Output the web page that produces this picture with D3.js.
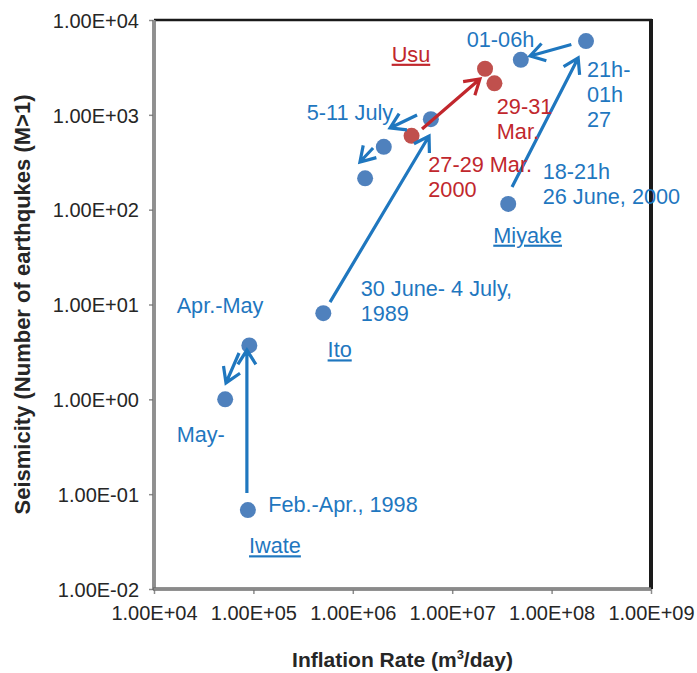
<!DOCTYPE html>
<html>
<head>
<meta charset="utf-8">
<script src="https://cdn.jsdelivr.net/npm/d3@7/dist/d3.min.js"></script>
<style>
  html, body { margin: 0; padding: 0; background: #fff; }
  svg { display: block; font-family: "Liberation Sans", Arial, sans-serif; }
</style>
</head>
<body>
<svg id="chart" width="697" height="673"></svg>
<script>
// ---- Data ----
const xTicks = [1e4, 1e5, 1e6, 1e7, 1e8, 1e9];
const yTicks = [1e-2, 1e-1, 1e0, 1e1, 1e2, 1e3, 1e4];

// points by volcano [inflation rate, seismicity]
const iwateX = [8.8e4, 9.1e4, 5.2e4];
const iwateY = [0.068, 3.7, 1.0];
const itoX = [5.05e5, 6.1e6, 2.05e6, 1.33e6];
const itoY = [8.1, 900, 460, 214];
const usuX = [3.9e6, 2.14e7, 2.66e7];
const usuY = [600, 3060, 2150];
const miyakeX = [3.66e7, 2.22e8, 4.9e7];
const miyakeY = [115, 6000, 3800];

// arrows: from [x,y] to [x,y]
const arrowFrom = [[8.6e4, 0.103], [7.17e4, 3.08], [5.9e5, 10.6], [4.43e6, 996], [1.6e6, 447], [4.97e6, 709], [4.0e7, 173], [1.58e8, 5520]];
const arrowTo   = [[8.6e4, 3.31], [5.3e4, 1.49], [5.85e6, 598], [2.37e6, 727], [1.18e6, 318], [1.9e7, 2390], [1.85e8, 3975], [6.07e7, 4170]];
const arrowRed  = [false, false, false, false, false, true, false, false];

// text annotations: anchor in data space
const labelText = [["Usu"], ["01-06h"], ["21h-", "01h", "27"], ["5-11 July"], ["29-31", "Mar."], ["27-29 Mar.", "2000"],
  ["18-21h", "26 June, 2000"], ["Miyake"], ["30 June- 4 July,", "1989"], ["Apr.-May"], ["Ito"], ["May-"], ["Feb.-Apr., 1998"], ["Iwate"]];
const labelX = [2.46e6, 1.40e7, 2.27e8, 3.44e5, 2.81e7, 5.75e6, 8.13e7, 2.59e7, 1.20e6, 1.69e4, 5.58e5, 1.69e4, 1.41e5, 9.04e4];
const labelY = [3630, 5150, 2506, 881, 1021, 251, 209, 44.9, 12.3, 8.07, 2.77, 0.357, 0.0653, 0.0238];
const labelRed = [true, false, false, false, true, true, false, false, false, false, false, false, false, false];
const labelUnderline = [true, false, false, false, false, false, false, true, false, false, true, false, false, true];

// ---- Layout ----
const svg = d3.select("#chart");
const L = 154, R = 651, T = 20, B = 589;
const x = d3.scaleLog().domain([1e4, 1e9]).range([L, R]);
const y = d3.scaleLog().domain([1e-2, 1e4]).range([B, T]);
const BLUE_PT = "#4f81bd", RED_PT = "#c0504d";
const BLUE = "#1f77bf", RED = "#c1272d";
const fmt = v => { const e = Math.round(Math.log10(v)); return "1.00E" + (e < 0 ? "-" : "+") + String(Math.abs(e)).padStart(2, "0"); };

// frame
svg.append("line").attr("x1", L).attr("x2", R + 1).attr("y1", T).attr("y2", T).attr("stroke", "#1a1a1a").attr("stroke-width", 2.5);
svg.append("line").attr("x1", R).attr("x2", R).attr("y1", T - 1).attr("y2", B).attr("stroke", "#1a1a1a").attr("stroke-width", 4);

// axes
const xAxis = d3.axisBottom(x).tickValues(xTicks).tickFormat(fmt).tickSize(5).tickPadding(12);
const yAxis = d3.axisLeft(y).tickValues(yTicks).tickFormat(fmt).tickSize(5).tickPadding(10);
const gx = svg.append("g").attr("transform", `translate(0,${B})`).call(xAxis);
const gy = svg.append("g").attr("transform", `translate(${L},0)`).call(yAxis);
[gx, gy].forEach(g => {
  g.select(".domain").remove();
  g.selectAll(".tick line").attr("stroke", "#8c8c8c").attr("stroke-width", 1.5);
  g.selectAll(".tick text").attr("fill", "#262626").style("font-size", "20px").style("font-family", "'Liberation Sans', Arial, sans-serif");
});
gy.selectAll(".tick text").attr("dy", "0.36em");
// grey axis lines
svg.append("line").attr("x1", L).attr("x2", L).attr("y1", T).attr("y2", B + 1).attr("stroke", "#6e6e6e").attr("stroke-width", 3.5);
svg.append("line").attr("x1", L).attr("x2", L).attr("y1", T).attr("y2", B).attr("stroke", "#a6a6a6").attr("stroke-width", 1.2);
svg.append("line").attr("x1", L - 1).attr("x2", R).attr("y1", B).attr("y2", B).attr("stroke", "#6e6e6e").attr("stroke-width", 3.5);
svg.append("line").attr("x1", L).attr("x2", R).attr("y1", B).attr("y2", B).attr("stroke", "#a6a6a6").attr("stroke-width", 1.2);

// axis titles
const xt = svg.append("text").attr("x", (L + R) / 2).attr("y", 667).attr("text-anchor", "middle")
  .style("font-weight", "bold").style("font-size", "21px").attr("fill", "#262626");
xt.append("tspan").text("Inflation Rate (m");
xt.append("tspan").text("3").style("font-size", "13px").attr("dy", -8);
xt.append("tspan").text("/day)").attr("dy", 8);

svg.append("text").attr("transform", `translate(30,${(T + B) / 2}) rotate(-90)`).attr("text-anchor", "middle")
  .style("font-weight", "bold").style("font-size", "22px").attr("fill", "#262626")
  .text("Seismicity (Number of earthqukes (M>1)");

// points
const groups = [
  { xs: iwateX, ys: iwateY, c: BLUE_PT },
  { xs: itoX, ys: itoY, c: BLUE_PT },
  { xs: usuX, ys: usuY, c: RED_PT },
  { xs: miyakeX, ys: miyakeY, c: BLUE_PT }
];
groups.forEach(gr => {
  svg.append("g").selectAll("circle").data(d3.zip(gr.xs, gr.ys)).join("circle")
    .attr("cx", d => x(d[0])).attr("cy", d => y(d[1])).attr("r", 8).attr("fill", gr.c);
});

// arrows
const ag = svg.append("g");
const HEAD = 17, ANG = 32 * Math.PI / 180;
arrowFrom.forEach((f, i) => {
  const t = arrowTo[i];
  const x1 = x(f[0]), y1 = y(f[1]), x2 = x(t[0]), y2 = y(t[1]);
  const a = Math.atan2(y2 - y1, x2 - x1);
  const c = arrowRed[i] ? RED : BLUE;
  const p = d3.path();
  p.moveTo(x1, y1); p.lineTo(x2, y2);
  p.moveTo(x2 - HEAD * Math.cos(a - ANG), y2 - HEAD * Math.sin(a - ANG));
  p.lineTo(x2, y2);
  p.lineTo(x2 - HEAD * Math.cos(a + ANG), y2 - HEAD * Math.sin(a + ANG));
  ag.append("path").attr("d", p.toString()).attr("fill", "none").attr("stroke", c)
    .attr("stroke-width", 3.2).attr("stroke-linejoin", "miter");
});

// labels
labelText.forEach((lines, i) => {
  const t = svg.append("text").attr("x", x(labelX[i])).attr("y", y(labelY[i]))
    .attr("fill", labelRed[i] ? RED : BLUE).style("font-size", "21.7px")
    .style("text-decoration", labelUnderline[i] ? "underline" : "none");
  lines.forEach((s, j) => {
    t.append("tspan").attr("x", x(labelX[i])).attr("dy", j === 0 ? 0 : 25).text(s);
  });
});
</script>
</body>
</html>
